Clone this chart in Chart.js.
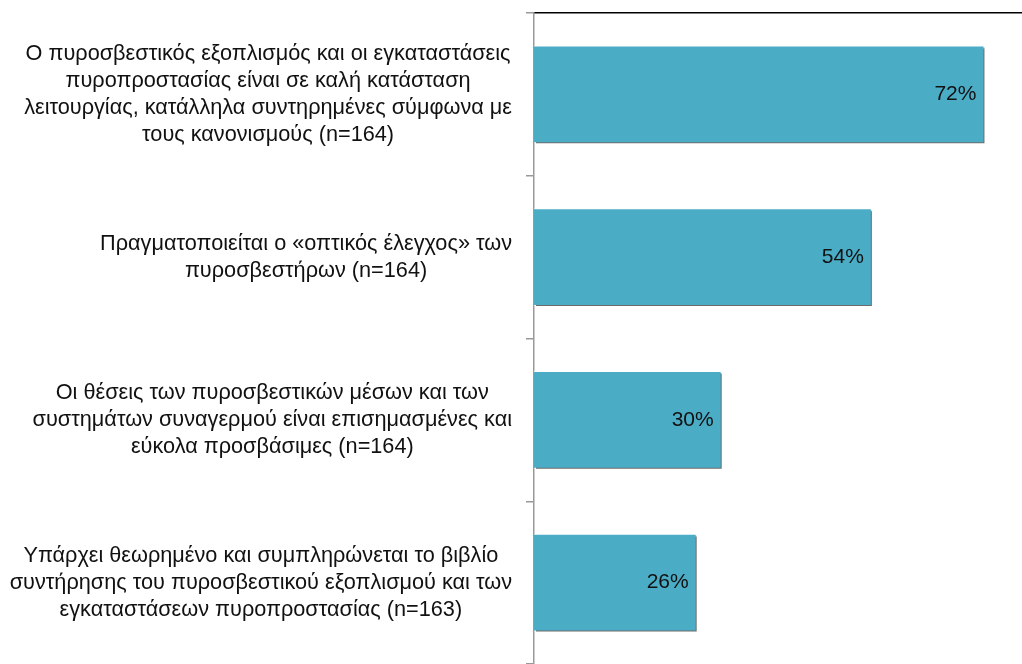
<!DOCTYPE html>
<html lang="el">
<head>
    <meta charset="UTF-8">
    <title>Πυροπροστασία</title>
    <script src="https://cdn.jsdelivr.net/npm/chart.js"></script>
    <style>
        body, html {
            margin: 0;
            padding: 0;
            background: #fff;
        }
        .chart-container {
            width: 1022px;
            height: 664px;
        }
    </style>
</head>
<body>
    <div class="chart-container">
        <canvas id="fireChart"></canvas>
    </div>
    <script>
        const categories = [
            ['Ο πυροσβεστικός εξοπλισμός και οι εγκαταστάσεις', 'πυροπροστασίας είναι σε καλή κατάσταση', 'λειτουργίας, κατάλληλα συντηρημένες σύμφωνα με', 'τους κανονισμούς (n=164)'],
            ['Πραγματοποιείται ο «οπτικός έλεγχος» των', 'πυροσβεστήρων (n=164)'],
            ['Οι θέσεις των πυροσβεστικών μέσων και των', 'συστημάτων συναγερμού είναι επισημασμένες και', 'εύκολα προσβάσιμες (n=164)'],
            ['Υπάρχει θεωρημένο και συμπληρώνεται το βιβλίο', 'συντήρησης του πυροσβεστικού εξοπλισμού και των', 'εγκαταστάσεων πυροπροστασίας (n=163)']
        ];
        const percentValues = [72, 54, 30, 26];

        const FONT = '"Liberation Sans", Arial, sans-serif';

        // shadow on the bars, value labels, and category labels
        // (each label block centred on its own widest line, blocks right aligned)
        const barExtras = {
            id: 'barExtras',
            beforeDatasetsDraw(chart) {
                const ctx = chart.ctx;
                ctx.save();
                ctx.shadowColor = 'rgba(70,70,70,0.8)';
                ctx.shadowOffsetX = 2;
                ctx.shadowOffsetY = 2;
                ctx.shadowBlur = 0;
            },
            afterDatasetsDraw(chart) {
                const ctx = chart.ctx;
                ctx.restore();
                const meta = chart.getDatasetMeta(0);
                ctx.save();
                ctx.font = '21px ' + FONT;
                ctx.fillStyle = '#111';
                ctx.textAlign = 'right';
                ctx.textBaseline = 'middle';
                meta.data.forEach((bar, i) => {
                    ctx.fillText(Math.round(percentValues[i]) + '%', bar.x - 8, bar.y);
                });

                const yScale = chart.scales.y;
                const rightEdge = yScale.right - 22;
                const lineH = 27;
                ctx.font = '21.7px ' + FONT;
                ctx.textAlign = 'center';
                categories.forEach((lines, i) => {
                    const y = yScale.getPixelForTick(i);
                    const widest = Math.max(...lines.map(l => ctx.measureText(l).width));
                    const cx = rightEdge - widest / 2;
                    const y0 = y - (lines.length - 1) * lineH / 2;
                    lines.forEach((l, j) => ctx.fillText(l, cx, y0 + j * lineH));
                });
                ctx.restore();
            }
        };

        new Chart(document.getElementById('fireChart'), {
            type: 'bar',
            data: {
                labels: categories,
                datasets: [{
                    data: percentValues,
                    backgroundColor: '#4BACC6',
                    borderColor: 'rgba(255,255,255,0.8)',
                    borderWidth: 1,
                    barPercentage: 0.6,
                    categoryPercentage: 1
                }]
            },
            options: {
                indexAxis: 'y',
                responsive: true,
                maintainAspectRatio: false,
                animation: false,
                layout: { padding: { top: 5, right: 0, bottom: 0, left: 0 } },
                plugins: {
                    legend: { display: false },
                    tooltip: { enabled: false }
                },
                scales: {
                    x: {
                        position: 'top',
                        min: 0,
                        max: 78,
                        grid: { display: false },
                        ticks: { display: false },
                        border: { display: true, color: '#000', width: 1.5 }
                    },
                    y: {
                        afterFit(scale) {
                            scale.width = 534;
                            scale.paddingTop = 0;
                            scale.paddingBottom = 0;
                        },
                        grid: {
                            display: true,
                            drawOnChartArea: false,
                            tickLength: 8,
                            color: '#999',
                            lineWidth: 1.5
                        },
                        border: { display: true, color: '#999', width: 1.5 },
                        ticks: { display: false }
                    }
                }
            },
            plugins: [barExtras]
        });
    </script>
</body>
</html>
